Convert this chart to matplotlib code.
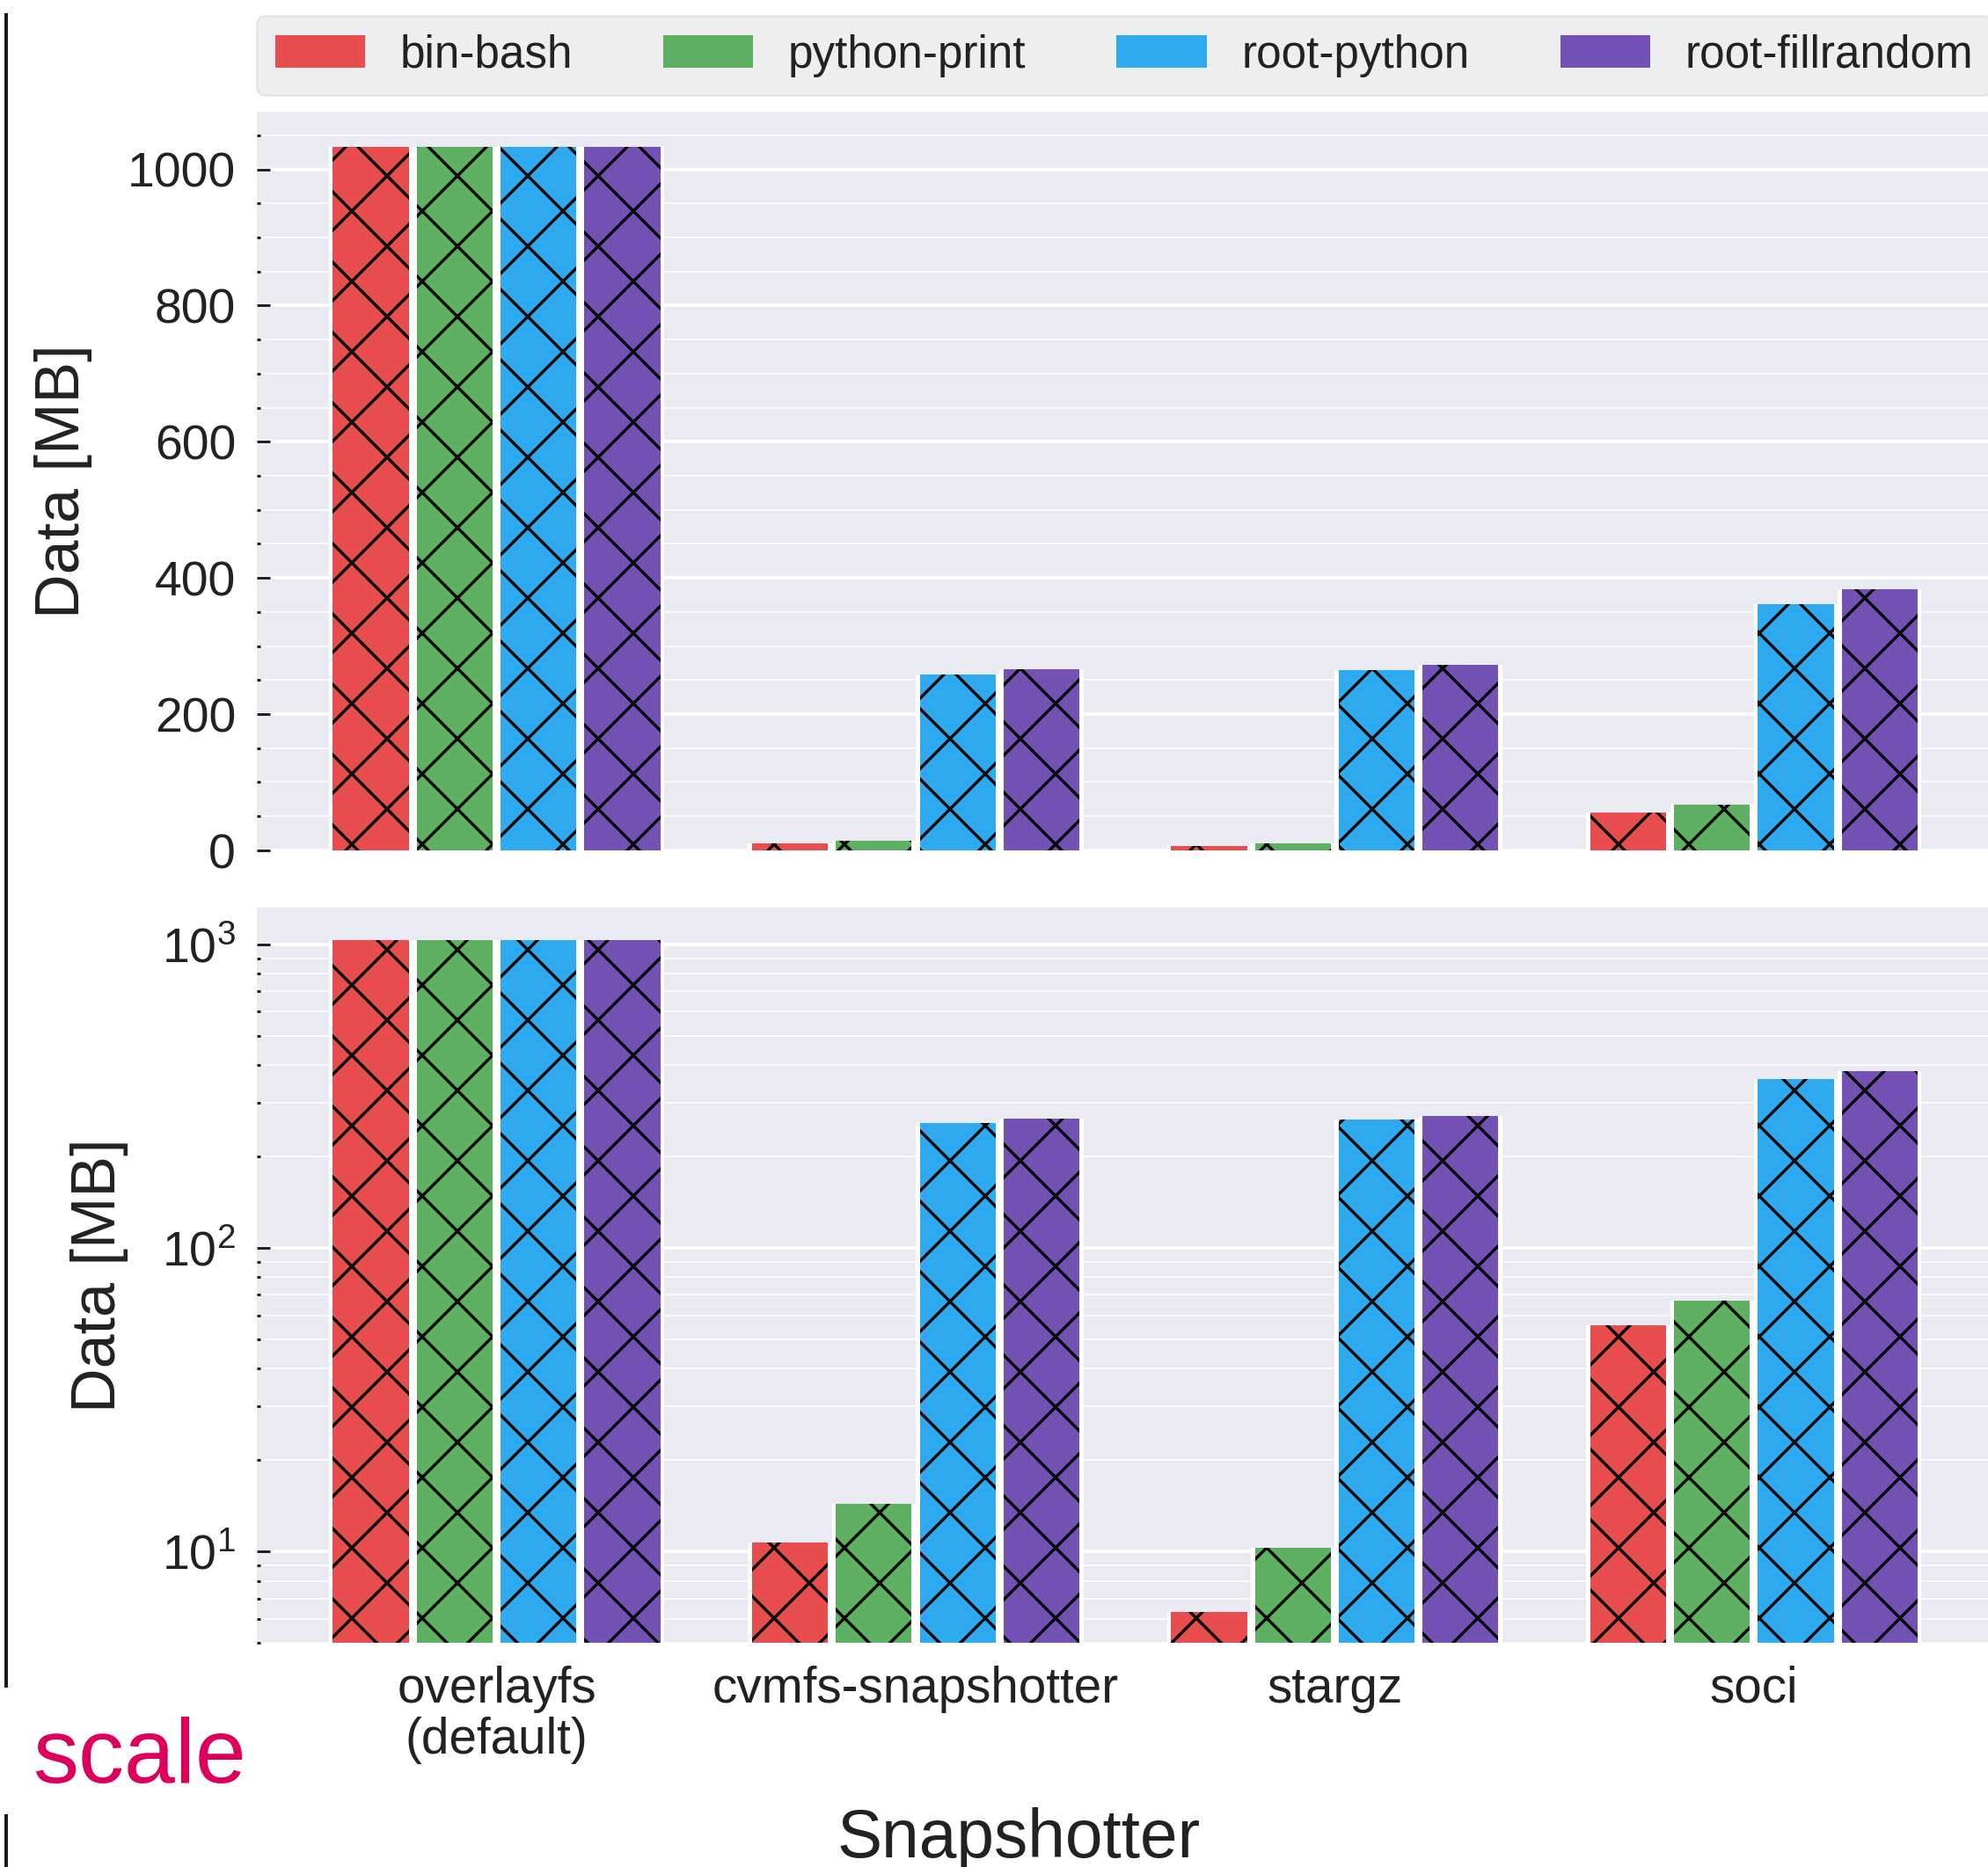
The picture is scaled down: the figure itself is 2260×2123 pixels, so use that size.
import matplotlib
matplotlib.use("Agg")
import matplotlib.pyplot as plt
import numpy as np
from matplotlib.lines import Line2D
from matplotlib.patches import Patch
from matplotlib.ticker import MultipleLocator, LogLocator, NullFormatter

# ---------------- data ----------------
snapshotters = ["overlayfs\n(default)", "cvmfs-snapshotter", "stargz", "soci"]
workloads = ["bin-bash", "python-print", "root-python", "root-fillrandom"]
bin_bash = [1033, 10.7, 6.3, 55.5]
python_print = [1033, 14.3, 10.3, 67.0]
root_python = [1033, 258, 265, 361]
root_fillrandom = [1033, 266, 272, 383]
series = [bin_bash, python_print, root_python, root_fillrandom]
colors = ["#E84D4D", "#5DB062", "#30AAEE", "#7451B5"]

# ---------------- style ----------------
plt.rcParams["font.family"] = ["Liberation Sans", "DejaVu Sans"]
plt.rcParams["hatch.linewidth"] = 0.5
plt.rcParams["axes.axisbelow"] = True

W, H, DPI = 2260, 2123, 480
fig = plt.figure(figsize=((W + 0.2) / DPI, (H + 0.2) / DPI), dpi=DPI)
fig.patch.set_facecolor("white")

def fx(px):
    return px / W

def fy(py):
    return 1 - py / H

ax_lin = fig.add_axes([fx(292), fy(967), 1 - fx(292), (967 - 127) / H])
ax_log = fig.add_axes([fx(292), fy(1868), 1 - fx(292), (1868 - 1032) / H])

x = np.arange(len(snapshotters))
slot = 0.2      # space per bar in a group
bw = 0.181      # visible coloured width (white seam between bars)
offsets = [-0.3, -0.1, 0.1, 0.3]

for ax in (ax_lin, ax_log):
    ax.set_facecolor("#EAEAF2")
    for s in ax.spines.values():
        s.set_visible(False)
    for vals, off, c in zip(series, offsets, colors):
        # white seam underneath
        ax.bar(x + off, vals, slot, color="white", linewidth=0, zorder=2)
        # coloured, hatched bar
        ax.bar(x + off, vals, bw, color=c, edgecolor="black", hatch="xx",
               linewidth=0, zorder=3)
    ax.set_xlim(-0.572, 3.559)
    ax.grid(True, which="major", axis="y", color="white", linewidth=0.55, zorder=0)
    ax.grid(True, which="minor", axis="y", color="white", linewidth=0.3,
            alpha=0.75, zorder=0)
    ax.tick_params(axis="y", which="major", direction="in", length=2.2,
                   width=0.45, color="#222222", labelsize=8.3, pad=3.6,
                   labelcolor="#222222")
    ax.tick_params(axis="y", which="minor", direction="in", length=0.6,
                   width=0.45, color="#222222")
    ax.tick_params(axis="x", length=0)

# linear panel
ax_lin.set_ylim(0, 1085)
ax_lin.yaxis.set_major_locator(MultipleLocator(200))
ax_lin.yaxis.set_minor_locator(MultipleLocator(50))
ax_lin.set_xticks(x)
ax_lin.set_xticklabels([])

# log panel
ax_log.set_yscale("log")
ax_log.set_ylim(5.0, 1323)
ax_log.yaxis.set_major_locator(LogLocator(base=10))
ax_log.yaxis.set_minor_locator(LogLocator(base=10, subs=np.arange(2, 10)))
ax_log.yaxis.set_minor_formatter(NullFormatter())
ax_log.set_xticks(x)
ax_log.set_xticklabels(snapshotters, fontsize=8.5, color="#222222",
                       linespacing=1.1)
ax_log.tick_params(axis="x", pad=3.8)

# y labels
for ax, px in ((ax_lin, 72), (ax_log, 113)):
    ax.set_ylabel("Data [MB]", fontsize=10.5, color="#222222")
    lab = ax.yaxis.label
    lab.set_rotation_mode("default")
    lab.set_ha("center")
    lab.set_va("center")
    ax.yaxis.set_label_coords((px - 292) / (W - 292), 0.5)

# x label
fig.text(fx(1158), fy(2112), "Snapshotter", ha="center", va="baseline",
         fontsize=11.5, color="#222222")

# legend
handles = [Patch(facecolor=c, edgecolor="none") for c in colors]
leg = fig.legend(handles, workloads, loc="upper left",
                 bbox_to_anchor=(fx(292), fy(18)), bbox_transform=fig.transFigure,
                 ncol=4, fontsize=7.7, frameon=True, fancybox=True,
                 handlelength=1.99, handleheight=0.72, handletextpad=0.78,
                 columnspacing=2.0, borderpad=0.40, borderaxespad=0)
frame = leg.get_frame()
frame.set_facecolor("#ECEEF0")
frame.set_edgecolor("#E2E4E6")
frame.set_alpha(1)
frame.set_linewidth(0.4)
for t in leg.get_texts():
    t.set_color("#222222")

# screenshot artefacts: left rule and "scale" text
fig.add_artist(Line2D([fx(7), fx(7)], [fy(17), fy(1917)], transform=fig.transFigure,
                      color="#1a1a1a", linewidth=0.6))
fig.add_artist(Line2D([fx(7), fx(7)], [fy(2065), fy(2123)], transform=fig.transFigure,
                      color="#1a1a1a", linewidth=0.6))
fig.text(fx(37), fy(2027), "scale", ha="left", va="baseline", fontsize=15.6,
         color="#DC005A")

fig.savefig("out.png", dpi=DPI, facecolor="white")
